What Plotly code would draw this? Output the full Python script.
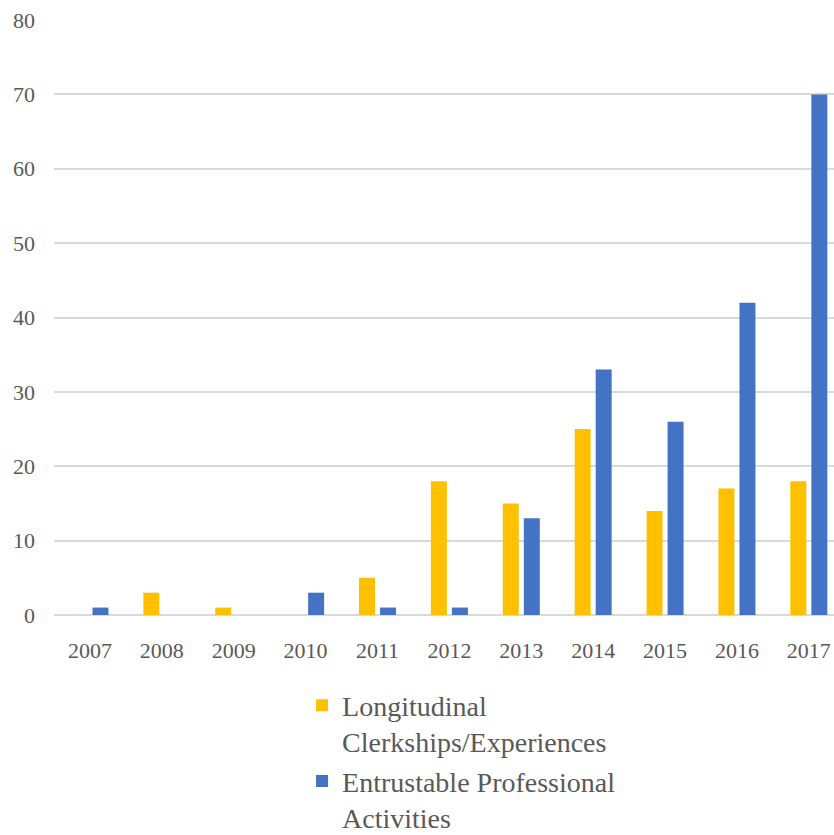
import plotly.graph_objects as go

years = ["2007", "2008", "2009", "2010", "2011", "2012", "2013", "2014", "2015", "2016", "2017"]
longitudinal = [0, 3, 1, 0, 5, 18, 15, 25, 14, 17, 18]
epa = [1, 0, 0, 3, 1, 1, 13, 33, 26, 42, 70]
y_ticks = [0, 10, 20, 30, 40, 50, 60, 70, 80]

font_family = "'Liberation Serif', 'Times New Roman', Times, serif"
text_color = "#595959"

fig = go.Figure()
fig.add_trace(go.Bar(x=years, y=longitudinal, name="Longitudinal<br>Clerkships/Experiences",
                     marker=dict(color="#FFC000", line=dict(width=0))))
fig.add_trace(go.Bar(x=years, y=epa, name="Entrustable Professional<br>Activities",
                     marker=dict(color="#4472C4", line=dict(width=0))))

fig.update_layout(
    width=834, height=835,
    margin=dict(l=54, r=0, t=20, b=220, autoexpand=False),
    paper_bgcolor="white", plot_bgcolor="white",
    barmode="group", bargap=0.415, bargroupgap=0.24,
    font=dict(family=font_family, color=text_color, size=22),
    xaxis=dict(type="category", range=[-0.5, 10.35], showgrid=False, showline=False,
               ticks="", tickfont=dict(size=22, color=text_color, family=font_family), ticklabelstandoff=20),
    yaxis=dict(range=[0, 80], tickvals=y_ticks, showgrid=True, gridcolor="#D9D9D9", gridwidth=1.5,
               zeroline=True, zerolinecolor="#D9D9D9", zerolinewidth=1.5, showline=False,
               ticks="", tickfont=dict(size=22, color=text_color, family=font_family), ticklabelstandoff=18),
    legend=dict(orientation="v", x=0.318, xanchor="left", y=-0.11, yanchor="top",
                font=dict(size=28, color=text_color, family=font_family),
                valign="top", tracegroupgap=0, bgcolor="rgba(0,0,0,0)"),
    showlegend=True,
)

fig.write_html("out.html")
